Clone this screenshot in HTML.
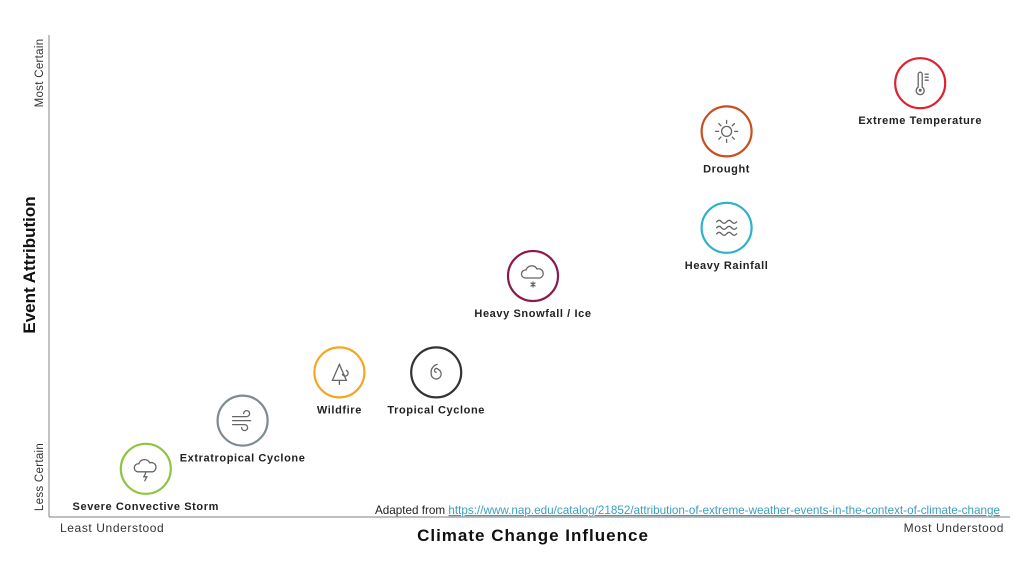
<!DOCTYPE html>
<html><head><meta charset="utf-8"><style>
html,body{margin:0;padding:0;background:#fff;}
body{width:1024px;height:564px;overflow:hidden;font-family:"Liberation Sans",sans-serif;}
</style></head><body>
<svg id="chart" width="1024" height="564" viewBox="0 0 1024 564" xmlns="http://www.w3.org/2000/svg" font-family="Liberation Sans, sans-serif">
<line x1="49" y1="35" x2="49" y2="517" stroke="#999" stroke-width="1.2"/>
<line x1="49" y1="517" x2="1010" y2="517" stroke="#999" stroke-width="1.2"/>
<text transform="translate(43,73) rotate(-90)" text-anchor="middle" font-size="11.5" letter-spacing="0.3" fill="#333">Most Certain</text>
<text transform="translate(43,477) rotate(-90)" text-anchor="middle" font-size="11.5" letter-spacing="0.3" fill="#333">Less Certain</text>
<text transform="translate(35,265) rotate(-90)" text-anchor="middle" font-size="17" font-weight="bold" fill="#111">Event Attribution</text>
<text x="60" y="532" font-size="12" letter-spacing="0.6" fill="#333">Least Understood</text>
<text x="1004" y="532" text-anchor="end" font-size="12" letter-spacing="0.6" fill="#333">Most Understood</text>
<text x="533" y="541" text-anchor="middle" font-size="17" font-weight="bold" letter-spacing="1" fill="#111">Climate Change Influence</text>
<text x="375" y="514" font-size="11.7" fill="#222">Adapted from <tspan fill="#3a9fbf" text-decoration="underline">https://www.nap.edu/catalog/21852/attribution-of-extreme-weather-events-in-the-context-of-climate-change</tspan></text>
<g id="marks"></g>
</svg>
<script>
const categories = ["Severe Convective Storm","Extratropical Cyclone","Wildfire","Tropical Cyclone","Heavy Snowfall / Ice","Heavy Rainfall","Drought","Extreme Temperature"];
const understanding = [1,2,3,4,5,7,7,9];
const attribution = [1,2,3,3,5,6,8,9];
const colors = ["#8dc63f","#7f8b90","#f6a623","#333333","#8b1a4a","#2bb3c9","#c8501e","#e0202e"];
const icons = ["storm","wind","fire","cyclone","snow","rain","sun","thermo"];
const xScale = v => 49 + 96.8 * v;
const yScale = v => 517 - 48.2 * v;
const NS = "http://www.w3.org/2000/svg";
const g = document.getElementById("marks");
function mk(tag, attrs, parent){const e=document.createElementNS(NS,tag);for(const k in attrs)e.setAttribute(k,attrs[k]);parent.appendChild(e);return e;}
function icon(type, p){
  const s={fill:"none",stroke:"#666","stroke-width":"1.3","stroke-linecap":"round"};
  const path=d=>mk("path",Object.assign({d:d},s),p);
  if(type==="storm"){path("M-8,3 a4,4 0 0 1 1,-8 a6,6 0 0 1 11,-1 a4,4 0 0 1 3,9 z");path("M0,4 l-2,4 h3 l-2,4");}
  if(type==="wind"){path("M-10,-4 h14 a3,3 0 1 0 -3,-3");path("M-10,0 h18");path("M-10,4 h12 a3,3 0 1 1 -3,3");}
  if(type==="fire"){path("M-7,8 l7,-16 l7,16 z");path("M0,8 v4");path("M3,2 a3,3 0 1 0 4,-4");}
  if(type==="cyclone"){path("M0,0 a2,2 0 1 1 2,-3 a5,5 0 1 1 -7,4 a8,8 0 0 1 6,-9");}
  if(type==="snow"){path("M-8,2 a4,4 0 0 1 1,-8 a6,6 0 0 1 11,-1 a4,4 0 0 1 3,9 z");path("M0,6 v5 M-2,7 l4,3 M2,7 l-4,3");}
  if(type==="rain"){for(const y of [-6,0,6])path(`M-10,${y} q2.5,-3 5,0 t5,0 t5,0 t5,0`);}
  if(type==="sun"){mk("circle",Object.assign({cx:0,cy:0,r:5},s),p);for(let a=0;a<8;a++){const r=a*Math.PI/4;path(`M${8*Math.cos(r)},${8*Math.sin(r)} L${11*Math.cos(r)},${11*Math.sin(r)}`);}}
  if(type==="thermo"){path("M-2,4 v-13 a2,2 0 0 1 4,0 v13 a4,4 0 1 1 -4,0");mk("circle",{cx:0,cy:7,r:1.5,fill:"#666"},p);path("M5,-9 h3 M5,-6 h3 M5,-3 h3");}
}
categories.forEach((c,i)=>{
  const cx=xScale(understanding[i]), cy=yScale(attribution[i]);
  const grp=mk("g",{},g);
  
  
  const circ=mk("circle",{cx:cx,cy:cy,r:25,fill:"#fff",stroke:colors[i],"stroke-width":"2.2"},grp);
  
  
  const ig=mk("g",{transform:`translate(${cx},${cy})`},grp);
  
  
  icon(icons[i],ig);
  const t=mk("text",{x:cx,y:cy+41,"text-anchor":"middle","font-size":"11","font-weight":"bold","letter-spacing":"0.6",fill:"#222"},grp);
  
  
  t.textContent=c;
});
</script>
</body></html>
